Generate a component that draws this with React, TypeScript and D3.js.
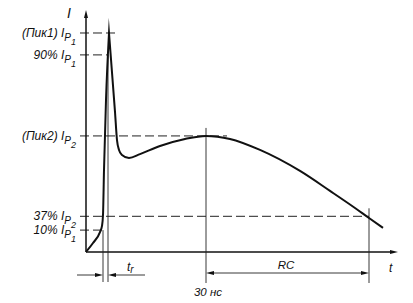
import React from "react";
import * as d3 from "d3";

// Current pulse, t in ns, I normalised to peak 1 (Ip1 = 1)
const riseT = [0, 1.75, 3.5, 4.0, 4.25, 4.5, 5.0, 5.75];
const riseI = [0, 0.041, 0.091, 0.119, 0.169, 0.374, 0.694, 1.0];
const fallT = [5.75, 7.25, 7.75, 8.25, 9.0, 10.75, 13.5, 18.5, 24.75, 30, 36, 43.5, 53.5, 61, 67.25, 70.75, 74.25];
const fallI = [1.0, 0.64, 0.511, 0.466, 0.443, 0.429, 0.447, 0.484, 0.516, 0.53, 0.516, 0.466, 0.37, 0.279, 0.201, 0.155, 0.11];

// Level markers
const levelNames = ["(Пик1) ", "90% ", "(Пик2) ", "37% ", "10% "];
const levelSub = ["1", "1", "2", "2", "1"];
const levelValues = [1.0, 0.9, 0.53, 0.163, 0.1];
const levelEndT = [7.5, 5.5, 35.25, 70.75, 4.25];

const trStart = 4.25;
const trEnd = 5.5;
const peak2T = 30;
const rcEndT = 70.75;
const tMax = 78;
const iMax = 1.105;

export default function App() {
  const x = d3.scaleLinear().domain([0, tMax]).range([86, 398]);
  const y = d3.scaleLinear().domain([0, iMax]).range([252, 10]);
  const line = d3.line<number>().curve(d3.curveMonotoneX);
  const p1 = line(riseT.map((t, i) => [x(t), y(riseI[i])]) as any) || "";
  const p2 = line(fallT.map((t, i) => [x(t), y(fallI[i])]) as any) || "";
  const path = p1 + "L" + p2.slice(1);

  const font = "'Liberation Sans', Arial, sans-serif";
  const x0 = x(0);
  const y0 = y(0);
  const arrow = (tx: number, ty: number, dir: "r" | "l" | "u") => {
    const L = 8, W = 2;
    let pts: number[][];
    if (dir === "r") pts = [[tx, ty], [tx - L, ty - W], [tx - L, ty + W]];
    else if (dir === "l") pts = [[tx, ty], [tx + L, ty - W], [tx + L, ty + W]];
    else pts = [[tx, ty], [tx - W, ty + L], [tx + W, ty + L]];
    return <polygon points={pts.map((p) => p.join(",")).join(" ")} fill="#111" />;
  };

  const arrowY = 275;
  const rcY = 273;

  return (
    <svg width={413} height={303} style={{ position: "absolute", left: 0, top: 0, background: "#fff" }}>
      {/* level dashed lines */}
      {levelValues.map((v, i) => (
        <line key={"d" + i} x1={x0 - 6} x2={x(levelEndT[i])} y1={y(v)} y2={y(v)}
          stroke="#222" strokeWidth={1} strokeDasharray="9,4" />
      ))}
      {/* labels */}
      {levelValues.map((v, i) => (
        <text key={"l" + i} x={76} y={y(v) + 4} textAnchor="end" fontFamily={font}
          fontStyle="italic" fontSize={12} fill="#111">
          {levelNames[i]}I
          <tspan fontSize={10} dy={4}>P</tspan>
          <tspan fontSize={9} dy={4}>{levelSub[i]}</tspan>
        </text>
      ))}
      {/* axes */}
      <line x1={x0} x2={x0} y1={y0} y2={y(iMax) + 4} stroke="#111" strokeWidth={1.5} />
      {arrow(x0, y(iMax), "u")}
      <line x1={x0} x2={x(tMax) - 4} y1={y0} y2={y0} stroke="#111" strokeWidth={1.5} />
      {arrow(x(tMax), y0, "r")}
      <text x={67} y={18} fontFamily={font} fontStyle="italic" fontSize={14} fill="#111">I</text>
      <text x={389} y={272} fontFamily={font} fontStyle="italic" fontSize={12} fill="#111">t</text>

      {/* extension lines */}
      <line x1={x(trStart)} x2={x(trStart)} y1={y(0.1)} y2={282} stroke="#222" strokeWidth={0.9} />
      <line x1={x(trEnd)} x2={x(trEnd)} y1={y(0.9)} y2={282} stroke="#222" strokeWidth={0.9} />
      <line x1={x(peak2T)} x2={x(peak2T)} y1={y(0.53) - 8} y2={283} stroke="#222" strokeWidth={0.9} />
      <line x1={x(rcEndT)} x2={x(rcEndT)} y1={y(0.163) - 8} y2={283} stroke="#222" strokeWidth={0.9} />

      {/* t_r arrows */}
      <line x1={77} x2={x(trStart) - 4} y1={arrowY} y2={arrowY} stroke="#222" strokeWidth={0.9} />
      {arrow(x(trStart), arrowY, "r")}
      <line x1={x(trEnd) + 4} x2={145} y1={arrowY} y2={arrowY} stroke="#222" strokeWidth={0.9} />
      {arrow(x(trEnd), arrowY, "l")}
      <text x={127} y={271} fontFamily={font} fontStyle="italic" fontSize={12} fill="#111">
        t<tspan fontSize={10} dy={2}>r</tspan>
      </text>

      {/* RC arrow */}
      <line x1={x(peak2T) + 4} x2={x(rcEndT) - 4} y1={rcY} y2={rcY} stroke="#222" strokeWidth={0.9} />
      {arrow(x(peak2T), rcY, "l")}
      {arrow(x(rcEndT), rcY, "r")}
      <text x={286} y={269} textAnchor="middle" fontFamily={font} fontStyle="italic" fontSize={11.5} fill="#111">RC</text>
      <text x={208} y={296} textAnchor="middle" fontFamily={font} fontStyle="italic" fontSize={11.5} fill="#111">30 нс</text>

      {/* curve */}
      <path d={path} fill="none" stroke="#111" strokeWidth={2} strokeLinejoin="miter" strokeMiterlimit={20} />
    </svg>
  );
}
